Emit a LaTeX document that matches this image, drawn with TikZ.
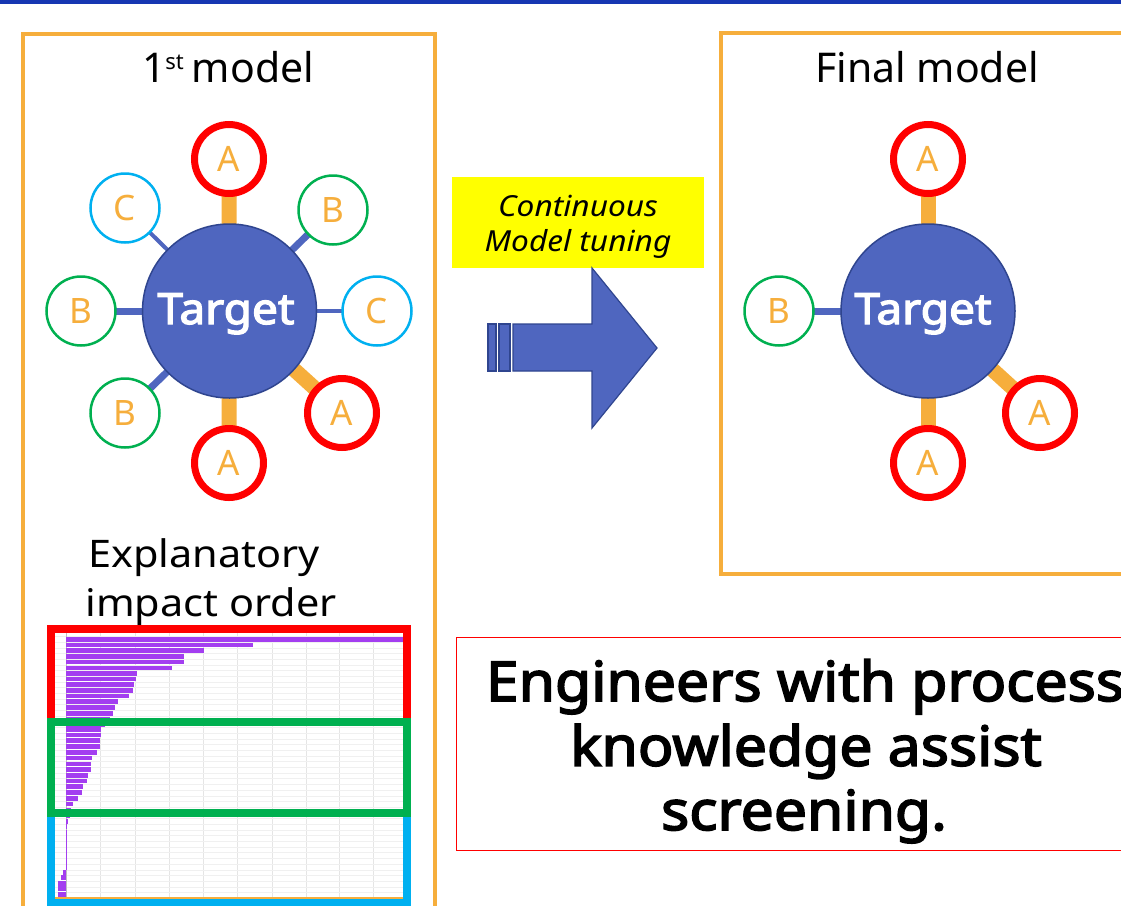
\documentclass[tikz,border=0pt]{standalone}
\usepackage{fontspec}
\setmainfont{Noto Sans}
\newfontfamily\nbold{Noto Sans}[FakeBold=3,FakeStretch=1.07]
\newfontfamily\nwide{Noto Sans}[FakeStretch=1.09]
\newfontfamily\nital{Noto Sans Italic}[FakeStretch=1.09]
\usetikzlibrary{backgrounds}
\definecolor{tblue}{RGB}{79,102,191}
\definecolor{tborder}{RGB}{47,69,143}
\definecolor{orng}{RGB}{246,174,60}
\definecolor{rred}{RGB}{255,0,0}
\definecolor{grn}{RGB}{0,176,80}
\definecolor{cyn}{RGB}{0,176,240}
\definecolor{barp}{RGB}{163,62,240}
\definecolor{topline}{RGB}{22,54,178}
\definecolor{yel}{RGB}{255,255,0}
\begin{document}
\begin{tikzpicture}[x=1pt,y=-1pt,
  every node/.style={inner sep=0pt, outer sep=0pt},
  tgt/.style={circle, minimum size=174pt, fill=tblue, draw=tborder, line width=1.5pt},
  tlabel/.style={text=white, font=\nbold\fontsize{43}{43}\selectfont, anchor=base},
  sat/.style={circle, minimum size=69pt, text=orng, font=\fontsize{35}{35}\selectfont, fill=white},
  satA/.style={sat, draw=rred, line width=7pt},
  satB/.style={sat, draw=grn, line width=2.5pt},
  satC/.style={sat, draw=cyn, line width=2.5pt},
  linkA/.style={draw=orng, line width=15pt},
  linkB/.style={draw=tblue, line width=7pt},
  linkC/.style={draw=tblue, line width=4pt},
  boxo/.style={draw=orng, line width=4pt},
  title/.style={font=\fontsize{41}{41}\selectfont, anchor=base},
  chartbox/.style={line width=8pt},
  bar/.style={fill=barp, draw=none},
  gridl/.style={draw=black!10, line width=0.6pt},
  bigtxt/.style={font=\nbold\fontsize{55}{55}\selectfont, anchor=base},
  tunetxt/.style={font=\nital\fontsize{29}{29}\selectfont, anchor=base},
  exptxt/.style={font=\nwide\fontsize{38}{38}\selectfont, anchor=base},
  arrowfill/.style={fill=tblue, draw=tborder, line width=1.2pt},
]
\useasboundingbox (0,0) rectangle (1121,905);
\clip (0,0) rectangle (1121,905);
% top line
\fill[topline] (0,0) rectangle (1121,3.5);

% frames
\draw[boxo] (22.5,915) -- (22.5,34) -- (434.5,34) -- (434.5,915);
\draw[boxo] (1135,33) -- (720.5,33) -- (720.5,574) -- (1135,574);

% titles
\node[title, anchor=base west] (t1title) at (142,82.7) {1\raisebox{13pt}{\fontsize{22}{22}\selectfont st}\hspace{8pt}model};
\node[title] (t2title) at (927,82.7) {Final model};

% first model network
\node[tgt] (t1) at (229.5,311) {};
\node[tlabel] (t1l) at (226,324) {Target};
\node[satA] (a1) at (229,159) {A};
\node[satB] (b1) at (333,210) {B};
\node[satC] (c1) at (377,311) {C};
\node[satA] (a2) at (342,413) {A};
\node[satA] (a3) at (229,463) {A};
\node[satB] (b2) at (125,413) {B};
\node[satB] (b3) at (81,311) {B};
\node[satC] (c2) at (125,208) {C};

% final model network
\node[tgt] (t2) at (928,311) {};
\node[tlabel] (t2l) at (923,324) {Target};
\node[satA] (a4) at (928,159) {A};
\node[satB] (b4) at (779,311) {B};
\node[satA] (a5) at (1040,413) {A};
\node[satA] (a6) at (928,463) {A};

\begin{pgfonlayer}{background}
\draw[linkA] (t1) -- (a1);
\draw[linkA] (t1) -- (a2);
\draw[linkA] (t1) -- (a3);
\draw[linkB] (t1) -- (b1);
\draw[linkB] (t1) -- (b2);
\draw[linkB] (t1) -- (b3);
\draw[linkC] (t1) -- (c1);
\draw[linkC] (t1) -- (c2);
\draw[linkA] (t2) -- (a4);
\draw[linkA] (t2) -- (a5);
\draw[linkA] (t2) -- (a6);
\draw[linkB] (t2) -- (b4);
\end{pgfonlayer}

% middle: label and arrow
\fill[yel] (452,177) rectangle (704,268);
\node[tunetxt] (tun1) at (578,216) {Continuous};
\node[tunetxt] (tun2) at (578,251.5) {Model tuning};
\draw[arrowfill] (513,324) -- (592,324) -- (592,268) -- (657,348) -- (592,428) -- (592,371) -- (513,371) -- cycle;
\draw[arrowfill] (488,324) rectangle (496,371);
\draw[arrowfill] (499,324) rectangle (510,371);

% explanatory impact order
\node[exptxt] (ex1) at (204,567) {Explanatory};
\node[exptxt] (ex2) at (211,616) {impact order};

% chart
\fill[white] (55,633) rectangle (403,899);
\foreach \gx in {100,135,169,203,237,272,306,339,373}
  \draw[gridl] (\gx,633) -- (\gx,899);
\foreach \k in {0,...,46}
  \draw[gridl, draw=black!6] (55,636.5+5.69*\k) -- (403,636.5+5.69*\k);
\draw[draw=black!25, line width=0.8pt] (66,633) -- (66,899);
\foreach \yy/\xe in {639.3/403.3,645/253.3,650.7/204,656.7/184,662/184,668/172.3,673.3/137.3,679/136,684.7/134.3,690.3/133.3,696/129,701.7/117.7,707.3/115,713.3/112.7,719/110,724.6/105,
  729.3/101.3,735/100.7,740.7/100.3,746.7/100,752.3/96.7,758/92.3,764/90.7,769.7/90.7,775.3/88,781/87.3,786.7/83.3,792.7/82,798.3/77.7,804/72.7,810/70.5,815.8/69.5,
  821.3/68.3,826.7/66.7,832.3/66.3,838/66.2}
  \fill[bar] (66,\yy-2.3) rectangle (\xe,\yy+2.3);
\draw[barp, line width=0.8pt] (66.2,835) -- (66.2,870);
\foreach \yy/\xs in {872.3/63.3,877.7/60.7,883.3/58.3,888.7/58.3,894.3/58.3}
  \fill[bar] (\xs,\yy-2.3) rectangle (66,\yy+2.3);
\draw[orng, line width=1.2pt] (55,898) -- (403,898);

\draw[chartbox, rred] (51,629) rectangle (407,722);
\draw[chartbox, cyn] (51,813) rectangle (407,903);
\draw[chartbox, grn] (51,722) rectangle (407,813);

% bottom right statement
\draw[rred, line width=1.5pt] (456.5,637.3) rectangle (1140,850.7);
\node[bigtxt] (s1) at (805,701) {Engineers with process};
\node[bigtxt] (s2) at (806,765.7) {knowledge assist};
\node[bigtxt] (s3) at (804,830) {screening.};
\end{tikzpicture}
\end{document}
